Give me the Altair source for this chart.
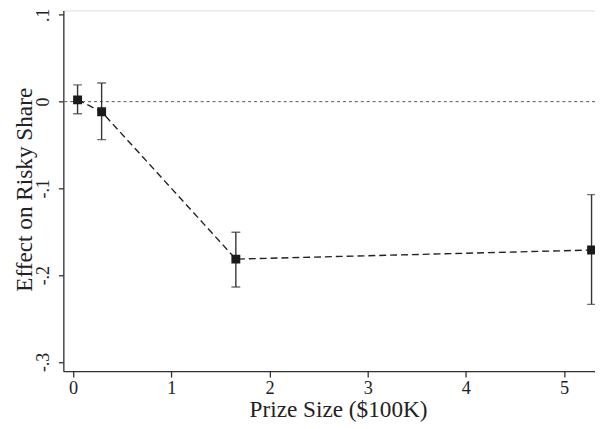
import altair as alt
import pandas as pd

prize = [0.045, 0.29, 1.657, 5.28]
effect = [0.002, -0.0117, -0.1815, -0.171]
ci_low = [-0.0139, -0.0438, -0.2137, -0.2336]
ci_high = [0.0193, 0.0215, -0.1506, -0.1072]

df = pd.DataFrame({"prize": prize, "effect": effect, "lo": ci_low, "hi": ci_high})
zero = pd.DataFrame({"y": [0.0]})

FONT = "Liberation Serif"
XDOM = [-0.1, 5.315]
YDOM = [-0.3106, 0.1051]

x = alt.X("prize:Q", scale=alt.Scale(domain=XDOM, nice=False, zero=False),
          axis=alt.Axis(title="Prize Size ($100K)", values=[0, 1, 2, 3, 4, 5],
                        format="d", grid=False, tickSize=6, labelPadding=16.5,
                        labelBaseline="alphabetic",
                        labelFontSize=18.5, titleFontSize=23.5, labelFont=FONT, titleFont=FONT,
                        titleX=278, titleY=46, titleBaseline="alphabetic", titleAlign="center",
                        titleFontWeight="normal", labelColor="#222", titleColor="#222",
                        domainColor="#333", tickColor="#333", domainWidth=1.3, tickWidth=1.3,
                        labelFlush=False))
y = alt.Y("effect:Q", scale=alt.Scale(domain=YDOM, nice=False, zero=False),
          axis=alt.Axis(title="Effect on Risky Share", values=[-0.3, -0.2, -0.1, 0, 0.1],
                        labelExpr="datum.value == 0 ? '0' : (datum.value < 0 ? '-' : '') + '.' + format(abs(datum.value) * 10, '.0f')",
                        grid=False, tickSize=5, labelPadding=10, labelAngle=270,
                        labelAlign="center", labelBaseline="alphabetic",
                        labelFontSize=18, titleFontSize=23.5, labelFont=FONT, titleFont=FONT,
                        titleAngle=270, titleX=-32, titleY=181, titleBaseline="alphabetic",
                        titleAlign="center", titleFontWeight="normal",
                        labelColor="#222", titleColor="#222",
                        domainColor="#333", tickColor="#333", domainWidth=1.3, tickWidth=1.3,
                        labelFlush=False))

zero_line = alt.Chart(zero).mark_rule(color="#555", strokeWidth=1, strokeDash=[3, 3]).encode(
    y=alt.Y("y:Q", scale=alt.Scale(domain=YDOM, nice=False, zero=False))
)

line = alt.Chart(df).mark_line(color="#222", strokeWidth=1.4, strokeDash=[7, 4], clip=True).encode(x=x, y=y)

bars = alt.Chart(df).mark_rule(color="#333", strokeWidth=1.4, clip=True).encode(
    x=x, y=alt.Y("lo:Q", scale=alt.Scale(domain=YDOM, nice=False, zero=False)), y2="hi:Q")

cap_lo = alt.Chart(df).mark_tick(color="#333", thickness=1.4, size=9, orient="horizontal", clip=True).encode(
    x=x, y=alt.Y("lo:Q", scale=alt.Scale(domain=YDOM, nice=False, zero=False)))
cap_hi = alt.Chart(df).mark_tick(color="#333", thickness=1.4, size=9, orient="horizontal", clip=True).encode(
    x=x, y=alt.Y("hi:Q", scale=alt.Scale(domain=YDOM, nice=False, zero=False)))

pts = alt.Chart(df).mark_square(color="#1a1a1a", size=81, opacity=1, clip=True).encode(x=x, y=y)

chart = alt.layer(zero_line, line, bars, cap_lo, cap_hi, pts).properties(
    width=538, height=365,
    autosize=alt.AutoSizeParams(type="none"),
    padding={"left": 56, "top": 0, "right": 0, "bottom": 50},
).configure_view(stroke=None).configure(background="white")

chart.save("out.html", embed_options={"renderer": "svg", "actions": False})
